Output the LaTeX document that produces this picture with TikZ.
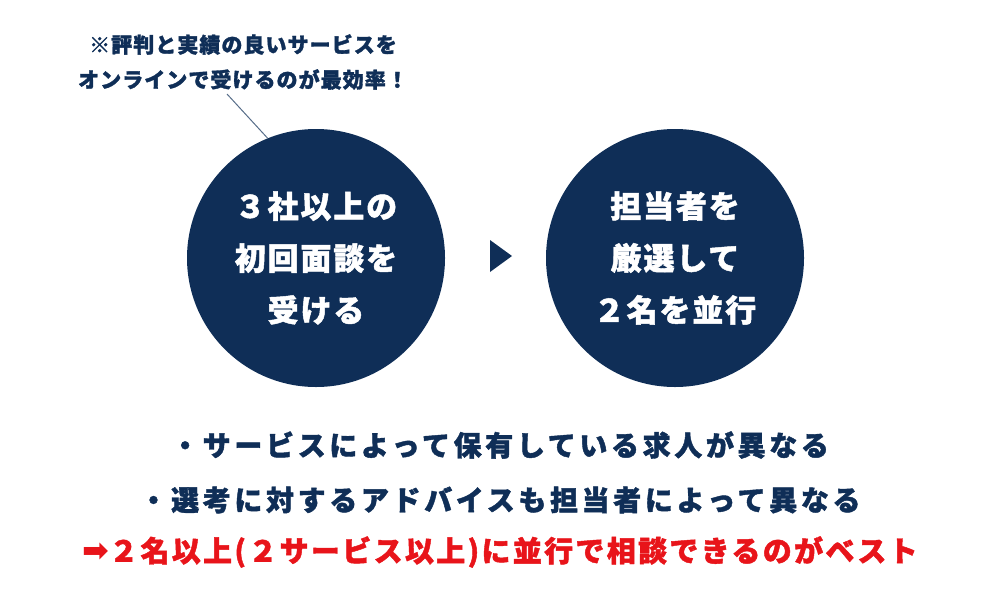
\documentclass[tikz,border=0pt]{standalone}
\usepackage{fontspec}
\newfontfamily\jp{Noto Sans CJK JP}
\newfontfamily\sym{DejaVu Sans}
\definecolor{navy}{HTML}{0F2E57}
\definecolor{bestred}{HTML}{E8141A}
\tikzset{
  bubble/.style={circle,fill=navy,minimum size=258pt,inner sep=0pt,align=center,text=white,
    font=\jp\bfseries\fontsize{31}{52}\selectfont\addfontfeatures{LetterSpace=6,FakeBold=1.5}},
  note/.style={align=center,text=navy,
    font=\jp\bfseries\fontsize{21}{35}\selectfont\addfontfeatures{LetterSpace=5,FakeBold=1.5}},
  point/.style={text=navy,
    font=\jp\bfseries\fontsize{28}{28}\selectfont\addfontfeatures{LetterSpace=13,FakeBold=1.5}},
  best/.style={text=bestred,
    font=\jp\bfseries\fontsize{29}{29}\selectfont\addfontfeatures{LetterSpace=8,FakeBold=1.5}}
}
\begin{document}
\begin{tikzpicture}[x=1pt,y=-1pt]
\useasboundingbox (0,0) rectangle (1000,600);
% Circles
\node[bubble] (c1) at (316,258) {３社以上の\\初回面談を\\受ける};
\node[bubble] (c2) at (675,258) {担当者を\\厳選して\\２名を並行};
\fill[navy] (490,240) -- (512,256) -- (490,272) -- cycle;

% Note
\node[note] (note) at (243,62) {※評判と実績の良いサービスを\\オンラインで受けるのが最効率！};
\coordinate (tip) at (227,94);
\draw[navy!70,line width=1pt] (tip) -- (c1.112);

% Points
\node[point] (p1) at (500,445) {・サービスによって保有している求人が異なる};
\node[point] (p2) at (500,500) {・選考に対するアドバイスも担当者によって異なる};
\node[best] (best) at (500,552) {{\sym\bfseries\fontsize{32}{32}\selectfont ➡}２名以上(２サービス以上)に並行で相談できるのがベスト};
\end{tikzpicture}
\end{document}
